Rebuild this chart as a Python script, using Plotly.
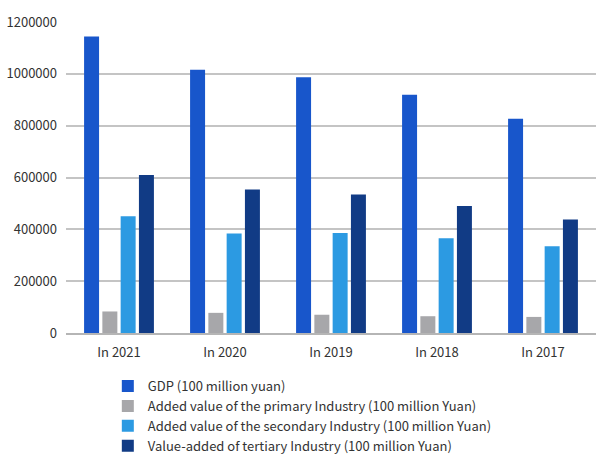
import plotly.graph_objects as go

categories = ["In 2021", "In 2020", "In 2019", "In 2018", "In 2017"]
gdp = [1143670, 1015986, 986515, 919281, 827122]
primary = [83086, 77754, 70467, 64734, 62100]
secondary = [450904, 384255, 386165, 366001, 334623]
tertiary = [609680, 553977, 534233, 489701, 438000]

series_names = [
    "GDP (100 million yuan)",
    "Added value of the primary Industry (100 million Yuan)",
    "Added value of the secondary Industry (100 million Yuan)",
    "Value-added of tertiary Industry (100 million Yuan)",
]
colors = ["#1856cb", "#a7a7aa", "#2c9ae2", "#113b85"]
tick_vals = [0, 200000, 400000, 600000, 800000, 1000000, 1200000]

font_family = "Noto Sans CJK KR, Noto Sans, sans-serif"

fig = go.Figure()
for name, vals, col in zip(series_names, [gdp, primary, secondary, tertiary], colors):
    fig.add_trace(go.Bar(x=categories, y=vals, name=name, marker_color=col,
                         marker_line_width=0))

fig.update_layout(
    width=599, height=461,
    margin=dict(l=66, r=3, t=22, b=128, autoexpand=False),
    plot_bgcolor="white", paper_bgcolor="white",
    barmode="group", bargap=0.31, bargroupgap=0.18,
    font=dict(family=font_family, size=13, color="#333333"),
    showlegend=True,
    legend=dict(orientation="v", xref="container", yref="container",
                x=0.180, y=0.195, xanchor="left", yanchor="top",
                font=dict(size=13, color="#333333"), itemwidth=30,
                bgcolor="rgba(0,0,0,0)", tracegroupgap=0),
    xaxis=dict(showgrid=False, showline=True, linecolor="#b5b5b5", linewidth=2,
               ticks="", tickfont=dict(size=13), ticklabelstandoff=6),
    yaxis=dict(range=[0, 1200000], tickvals=tick_vals,
               ticktext=[str(v) for v in tick_vals],
               showgrid=True, gridcolor="#c4c4c4", gridwidth=2,
               zeroline=False, showline=False, ticks="",
               tickfont=dict(size=13), ticklabelstandoff=8),
)

fig.write_html("out.html")
